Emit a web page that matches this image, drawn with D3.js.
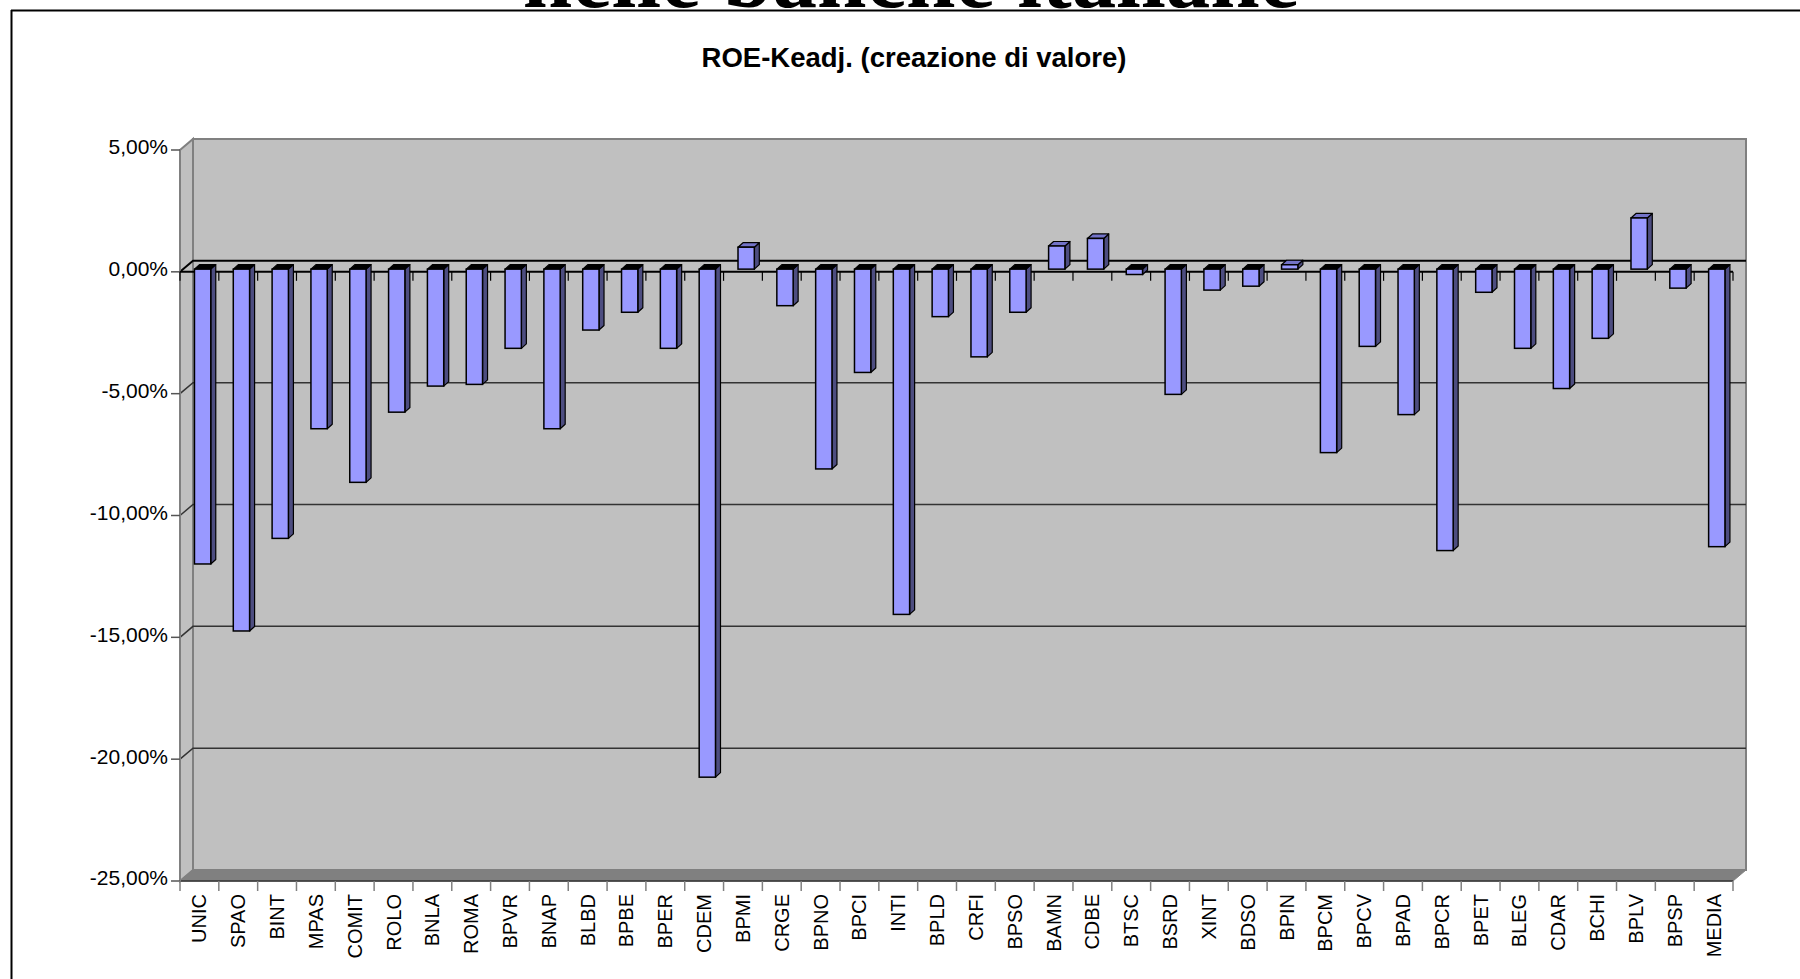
<!DOCTYPE html>
<html>
<head>
<meta charset="utf-8">
<script src="https://cdn.jsdelivr.net/npm/d3@7"></script>
<style>
    body { margin: 0; background: #fff; }
    svg { display: block; }
    .lbl { font-family: "Liberation Sans", Arial, sans-serif; fill: #000; }
</style>
</head>
<body>
<div id="chart"></div>
<script>
let categories = ['UNIC', 'SPAO', 'BINT', 'MPAS', 'COMIT', 'ROLO', 'BNLA', 'ROMA', 'BPVR', 'BNAP',
    'BLBD', 'BPBE', 'BPER', 'CDEM', 'BPMI', 'CRGE', 'BPNO', 'BPCI', 'INTI', 'BPLD',
    'CRFI', 'BPSO', 'BAMN', 'CDBE', 'BTSC', 'BSRD', 'XINT', 'BDSO', 'BPIN', 'BPCM',
    'BPCV', 'BPAD', 'BPCR', 'BPET', 'BLEG', 'CDAR', 'BCHI', 'BPLV', 'BPSP', 'MEDIA'];

// ROE - Ke adjusted, in %
let roeValues = [-12.1, -14.85, -11.05, -6.55, -8.75, -5.87, -4.8, -4.73, -3.25, -6.55,
    -2.5, -1.77, -3.25, -20.85, 0.9, -1.5, -8.2, -4.24, -14.17, -1.95,
    -3.6, -1.77, 0.95, 1.26, -0.22, -5.14, -0.86, -0.7, 0.18, -7.53,
    -3.17, -5.97, -11.55, -0.95, -3.25, -4.9, -2.84, 2.1, -0.78, -11.39];

let yTicks = [5, 0, -5, -10, -15, -20, -25];

let pageTitle = 'nelle banche italiane';
let chartTitle = 'ROE-Keadj. (creazione di valore)';

function RoeChart() {
    this.init();
}

RoeChart.prototype.init = function() {
    let vis = this;

    vis.svgWidth = 1800;
    vis.svgHeight = 979;

    // depth of the 3d box
    vis.dx = 13;
    vis.dy = 11;

    vis.svg = d3.select('#chart').append('svg')
        .attr('width', vis.svgWidth)
        .attr('height', vis.svgHeight);

    vis.x = d3.scaleBand()
        .domain(categories)
        .range([180, 1733]);

    vis.y = d3.scaleLinear()
        .domain([-25, 5])
        .range([881, 150]);
}

RoeChart.prototype.update = function() {
    let vis = this;
    let x = vis.x, y = vis.y, dx = vis.dx, dy = vis.dy;
    let x0 = x.range()[0], x1 = x.range()[1];
    let yTop = y(5), yBot = y(-25), yZero = y(0);

    // frame + page title (cut off at the top, as in the slide)
    vis.svg.append('text')
        .attr('x', 911)
        .attr('y', 7)
        .attr('text-anchor', 'middle')
        .style('font-family', '"Liberation Serif", "Times New Roman", serif')
        .style('font-weight', 'bold')
        .style('font-size', '89px')
        .text(pageTitle);

    vis.svg.append('line')
        .attr('x1', 11).attr('x2', 1800).attr('y1', 10.5).attr('y2', 10.5)
        .attr('stroke', '#000').attr('stroke-width', 2);
    vis.svg.append('line')
        .attr('x1', 11.5).attr('x2', 11.5).attr('y1', 10).attr('y2', 979)
        .attr('stroke', '#000').attr('stroke-width', 2);

    vis.svg.append('text')
        .attr('class', 'lbl')
        .attr('x', 914)
        .attr('y', 67)
        .attr('text-anchor', 'middle')
        .style('font-weight', 'bold')
        .style('font-size', '27.5px')
        .text(chartTitle);

    // back wall
    vis.svg.append('rect')
        .attr('x', x0 + dx)
        .attr('y', yTop - dy)
        .attr('width', x1 - x0)
        .attr('height', yBot - yTop)
        .attr('fill', '#c0c0c0')
        .attr('stroke', '#808080')
        .attr('stroke-width', 2);

    // side wall
    vis.svg.append('path')
        .attr('d', `M${x0},${yTop}L${x0 + dx},${yTop - dy}L${x0 + dx},${yBot - dy}L${x0},${yBot}Z`)
        .attr('fill', '#c0c0c0')
        .attr('stroke', '#808080')
        .attr('stroke-width', 2);

    // floor
    vis.svg.append('path')
        .attr('d', `M${x0},${yBot}L${x0 + dx},${yBot - dy}L${x1 + dx},${yBot - dy}L${x1},${yBot}Z`)
        .attr('fill', '#808080')
        .attr('stroke', '#808080');

    vis.svg.append('line')
        .attr('x1', x0).attr('x2', x1).attr('y1', yBot).attr('y2', yBot)
        .attr('stroke', '#333').attr('stroke-width', 1.5);

    // gridlines on walls
    let grid = yTicks.filter(d => d > -25 && d < 5);
    vis.svg.selectAll('.grid')
        .data(grid)
        .enter()
        .append('path')
        .attr('class', 'grid')
        .attr('d', d => `M${x0},${y(d)}L${x0 + dx},${y(d) - dy}L${x1 + dx},${y(d) - dy}`)
        .attr('fill', 'none')
        .attr('stroke', d => d == 0 ? '#000' : '#333')
        .attr('stroke-width', d => d == 0 ? 2 : 1.5);

    // front y axis
    vis.svg.append('line')
        .attr('x1', x0).attr('x2', x0).attr('y1', yTop).attr('y2', yBot)
        .attr('stroke', '#808080').attr('stroke-width', 2);

    vis.svg.selectAll('.ytick')
        .data(yTicks)
        .enter()
        .append('line')
        .attr('class', 'ytick')
        .attr('x1', x0 - 9).attr('x2', x0)
        .attr('y1', d => y(d)).attr('y2', d => y(d))
        .attr('stroke', '#555').attr('stroke-width', 1.5);

    vis.svg.selectAll('.ylabel')
        .data(yTicks)
        .enter()
        .append('text')
        .attr('class', 'lbl ylabel')
        .attr('x', 168)
        .attr('y', d => y(d) - 3)
        .attr('dy', '0.35em')
        .attr('text-anchor', 'end')
        .style('font-size', '21px')
        .text(d => d.toFixed(2).replace('.', ',') + '%');

    // front zero line with category ticks
    let bounds = categories.map(c => x(c)).concat([x1]);

    vis.svg.append('line')
        .attr('x1', x0).attr('x2', x1).attr('y1', yZero).attr('y2', yZero)
        .attr('stroke', '#000').attr('stroke-width', 2);

    vis.svg.selectAll('.ztick')
        .data(bounds)
        .enter()
        .append('line')
        .attr('class', 'ztick')
        .attr('x1', d => d).attr('x2', d => d)
        .attr('y1', yZero).attr('y2', yZero + 9)
        .attr('stroke', '#000').attr('stroke-width', 1.2);

    vis.svg.selectAll('.btick')
        .data(bounds)
        .enter()
        .append('line')
        .attr('class', 'btick')
        .attr('x1', d => d).attr('x2', d => d)
        .attr('y1', yBot).attr('y2', yBot + 10)
        .attr('stroke', '#808080').attr('stroke-width', 1.5);

    // bars
    let bw = x.bandwidth() * 0.42;
    let fx = 3.2, fy = -2.7; // bar front face offset inside the box
    let bdx = 5, bdy = 4.5;  // bar depth

    let bars = vis.svg.selectAll('.bar')
        .data(categories.map((c, i) => ({ cat: c, val: roeValues[i] })))
        .enter()
        .append('g')
        .attr('class', 'bar');

    bars.each(function(d) {
        let g = d3.select(this);
        let left = x(d.cat) + (x.bandwidth() - bw) / 2 + fx;
        let right = left + bw;
        let top = y(Math.max(d.val, 0)) + fy;
        let bot = y(Math.min(d.val, 0)) + fy;

        g.append('path')
            .attr('d', `M${right},${top}L${right + bdx},${top - bdy}L${right + bdx},${bot - bdy}L${right},${bot}Z`)
            .attr('fill', '#4d4d80')
            .attr('stroke', '#000')
            .attr('stroke-width', 1.2)
            .attr('stroke-linejoin', 'round');

        g.append('path')
            .attr('d', `M${left},${top}L${left + bdx},${top - bdy}L${right + bdx},${top - bdy}L${right},${top}Z`)
            .attr('fill', d.val < 0 ? '#000' : '#7373c8')
            .attr('stroke', '#000')
            .attr('stroke-width', 1.2)
            .attr('stroke-linejoin', 'round');

        g.append('rect')
            .attr('x', left)
            .attr('y', top)
            .attr('width', bw)
            .attr('height', Math.max(bot - top, 0.5))
            .attr('fill', '#9999ff')
            .attr('stroke', '#000')
            .attr('stroke-width', 1.5);
    });

    // category labels
    vis.svg.selectAll('.xlabel')
        .data(categories)
        .enter()
        .append('text')
        .attr('class', 'lbl xlabel')
        .attr('transform', d => `translate(${x(d) + x.bandwidth() / 2},894) rotate(-90)`)
        .attr('dy', '0.35em')
        .attr('text-anchor', 'end')
        .style('font-size', '20px')
        .text(d => d);
}

let chart = new RoeChart();
chart.update();
</script>
</body>
</html>
